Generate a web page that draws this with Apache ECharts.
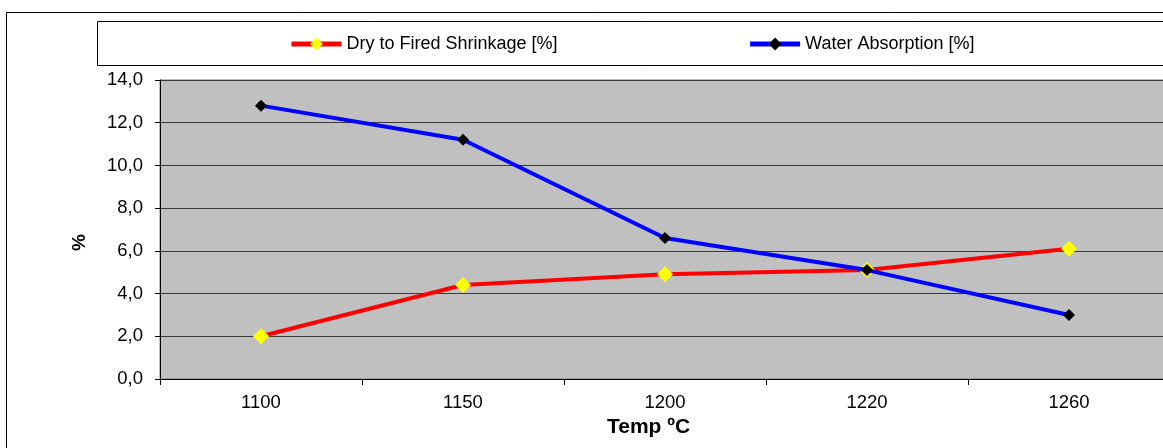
<!DOCTYPE html>
<html>
<head>
<meta charset="utf-8">
<script src="https://cdn.jsdelivr.net/npm/echarts@6/dist/echarts.min.js"></script>
<style>
  html, body { margin: 0; padding: 0; overflow: hidden; background: #fff; }
  #chart { width: 1190px; height: 448px; }
</style>
</head>
<body>
<div id="chart"></div>
<script>
var temps = ['1100', '1150', '1200', '1220', '1260'];
var shrinkage = [2.0, 4.4, 4.9, 5.1, 6.1];
var absorption = [12.8, 11.2, 6.6, 5.1, 3.0];

var font = 'Arial, "Liberation Sans", sans-serif';

var myChart = echarts.init(document.getElementById('chart'));

var option = {
    animation: false,
    backgroundColor: '#fff',
    graphic: [
        {
            type: 'rect',
            shape: { x: 6.5, y: 12.5, width: 1300, height: 600 },
            style: { fill: 'none', stroke: '#000', lineWidth: 1 },
            z: -10
        },
        {
            type: 'rect',
            shape: { x: 97.5, y: 21.5, width: 1200, height: 44 },
            style: { fill: '#fff', stroke: '#000', lineWidth: 1 },
            z: -9
        }
    ],
    legend: {
        left: 284,
        top: 30,
        itemWidth: 50,
        itemHeight: 16,
        itemGap: 190,
        lineStyle: { width: 5 },
        textStyle: { fontFamily: font, fontSize: 18, color: '#000' },
        data: ['Dry to Fired Shrinkage [%]', 'Water Absorption [%]']
    },
    grid: {
        left: 160,
        right: 20,
        top: 80,
        bottom: 69,
        show: true,
        backgroundColor: '#c0c0c0',
        borderColor: '#808080',
        borderWidth: 1
    },
    xAxis: {
        type: 'category',
        data: temps,
        boundaryGap: true,
        name: 'Temp ºC',
        nameLocation: 'middle',
        nameGap: 35,
        nameTextStyle: {
            fontFamily: font, fontSize: 21, fontWeight: 'bold', color: '#000',
            padding: [0, 33, 0, 0]
        },
        axisLine: { lineStyle: { color: '#000', width: 1 } },
        axisTick: { show: true, length: 6, lineStyle: { color: '#000' } },
        axisLabel: { margin: 14, fontFamily: font, fontSize: 18.5, color: '#000' },
        splitLine: { show: false }
    },
    yAxis: {
        type: 'value',
        min: 0,
        max: 14,
        interval: 2,
        name: '%',
        nameLocation: 'middle',
        nameGap: 71,
        nameTextStyle: {
            fontFamily: font, fontSize: 19, fontWeight: 'bold', color: '#000',
            padding: [0, 26, 0, 0]
        },
        axisLine: { show: true, lineStyle: { color: '#000', width: 1 } },
        axisTick: { show: true, length: 5, lineStyle: { color: '#000' } },
        axisLabel: {
            margin: 17,
            fontFamily: font,
            fontSize: 18.5,
            color: '#000',
            formatter: function (v) { return v.toFixed(1).replace('.', ','); }
        },
        splitLine: { show: true, lineStyle: { color: '#3a3a3a', width: 1 } }
    },
    series: [
        {
            name: 'Dry to Fired Shrinkage [%]',
            type: 'line',
            data: shrinkage,
            symbol: 'diamond',
            symbolSize: 16,
            itemStyle: { color: '#ffff00' },
            lineStyle: { color: '#ff0000', width: 4 },
            z: 2
        },
        {
            name: 'Water Absorption [%]',
            type: 'line',
            data: absorption,
            symbol: 'diamond',
            symbolSize: 12,
            itemStyle: { color: '#000' },
            lineStyle: { color: '#0000ff', width: 4 },
            z: 3
        }
    ]
};

myChart.setOption(option);
</script>
</body>
</html>
